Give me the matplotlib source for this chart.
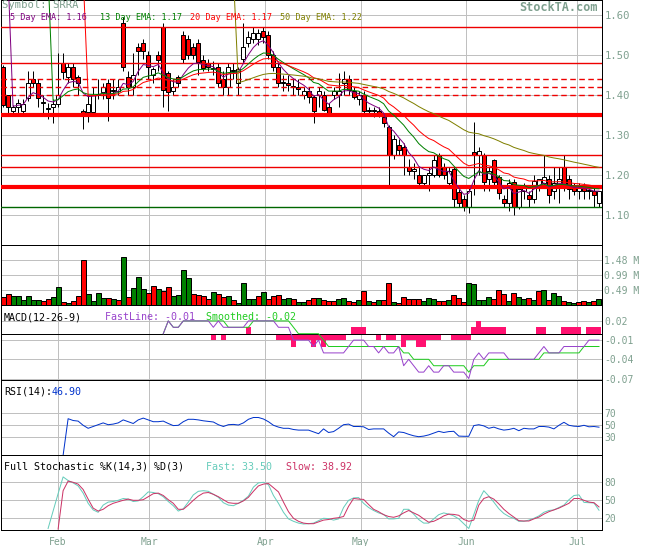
import matplotlib
matplotlib.use('Agg')
import matplotlib.pyplot as plt
import numpy as np

plt.rcParams['font.family'] = ['DejaVu Sans Mono']

# ---- data ----
symbol = 'SRRA'
months = ['Feb', 'Mar', 'Apr', 'May', 'Jun', 'Jul']
month_pos = [11.5, 29.7, 52.9, 71.9, 93.0, 115.2]

opens = [1.47, 1.40, 1.36, 1.37, 1.36, 1.392, 1.44, 1.43, 1.38, 1.365,
         1.37, 1.378, 1.48, 1.446, 1.469, 1.446, 1.36, 1.358, 1.358, 1.40,
         1.408, 1.429, 1.41, 1.41, 1.579, 1.446, 1.42, 1.52, 1.529, 1.50,
         1.45, 1.50, 1.569, 1.454, 1.41, 1.446, 1.55, 1.54, 1.52, 1.529,
         1.4875, 1.479, 1.465, 1.469, 1.44, 1.419, 1.46, 1.429, 1.49, 1.53,
         1.54, 1.54, 1.56, 1.55, 1.50, 1.47, 1.43, 1.43, 1.42, 1.42,
         1.40, 1.41, 1.395, 1.40, 1.40, 1.37, 1.40, 1.40, 1.43, 1.44,
         1.41, 1.39, 1.40, 1.36, 1.36, 1.36, 1.346, 1.32, 1.25, 1.275,
         1.27, 1.22, 1.21, 1.20, 1.18, 1.20, 1.20, 1.25, 1.22, 1.18,
         1.216, 1.158, 1.14, 1.12, 1.258, 1.25, 1.25, 1.19, 1.2375, 1.196,
         1.14, 1.13, 1.183, 1.12, 1.16, 1.15, 1.14, 1.17, 1.18, 1.19,
         1.16, 1.17, 1.22, 1.19, 1.17, 1.16, 1.17, 1.16, 1.16, 1.13]
highs = [1.475, 1.40, 1.375, 1.39, 1.39, 1.46, 1.46, 1.44, 1.40, 1.38,
         1.39, 1.505, 1.505, 1.479, 1.479, 1.45, 1.365, 1.40, 1.42, 1.44,
         1.43, 1.44, 1.44, 1.44, 1.594, 1.46, 1.505, 1.53, 1.54, 1.51,
         1.47, 1.51, 1.58, 1.46, 1.44, 1.45, 1.56, 1.55, 1.53, 1.54,
         1.50, 1.49, 1.485, 1.48, 1.46, 1.479, 1.48, 1.47, 1.579, 1.56,
         1.57, 1.565, 1.57, 1.56, 1.51, 1.48, 1.45, 1.45, 1.44, 1.44,
         1.42, 1.42, 1.40, 1.42, 1.41, 1.38, 1.42, 1.455, 1.46, 1.45,
         1.42, 1.41, 1.41, 1.37, 1.37, 1.37, 1.35, 1.325, 1.30, 1.29,
         1.28, 1.24, 1.23, 1.22, 1.20, 1.22, 1.25, 1.255, 1.23, 1.22,
         1.22, 1.165, 1.15, 1.17, 1.333, 1.27, 1.255, 1.22, 1.24, 1.20,
         1.15, 1.19, 1.19, 1.17, 1.18, 1.16, 1.20, 1.19, 1.25, 1.20,
         1.22, 1.22, 1.25, 1.20, 1.18, 1.18, 1.18, 1.17, 1.17, 1.16]
lows = [1.37, 1.355, 1.35, 1.355, 1.355, 1.385, 1.42, 1.37, 1.355, 1.34,
        1.33, 1.37, 1.44, 1.43, 1.42, 1.40, 1.315, 1.333, 1.35, 1.39,
        1.39, 1.335, 1.39, 1.40, 1.46, 1.40, 1.40, 1.45, 1.49, 1.44,
        1.43, 1.46, 1.37, 1.36, 1.40, 1.42, 1.48, 1.49, 1.49, 1.45,
        1.46, 1.46, 1.45, 1.42, 1.40, 1.40, 1.44, 1.40, 1.48, 1.52,
        1.53, 1.525, 1.53, 1.49, 1.46, 1.42, 1.41, 1.41, 1.40, 1.40,
        1.39, 1.38, 1.33, 1.37, 1.36, 1.35, 1.39, 1.37, 1.40, 1.40,
        1.39, 1.375, 1.35, 1.35, 1.345, 1.345, 1.32, 1.17, 1.24, 1.25,
        1.20, 1.20, 1.19, 1.17, 1.175, 1.16, 1.195, 1.195, 1.19, 1.17,
        1.12, 1.12, 1.11, 1.105, 1.15, 1.20, 1.16, 1.16, 1.17, 1.14,
        1.12, 1.11, 1.10, 1.115, 1.14, 1.12, 1.13, 1.16, 1.17, 1.13,
        1.14, 1.13, 1.16, 1.14, 1.15, 1.14, 1.14, 1.14, 1.12, 1.12]
closes = [1.375, 1.37, 1.37, 1.38, 1.378, 1.43, 1.43, 1.392, 1.381, 1.366,
          1.378, 1.40, 1.458, 1.469, 1.44, 1.429, 1.35, 1.378, 1.40, 1.401,
          1.419, 1.392, 1.411, 1.419, 1.469, 1.419, 1.45, 1.51, 1.51, 1.469,
          1.465, 1.4875, 1.4125, 1.408, 1.42, 1.429, 1.49, 1.50, 1.50, 1.483,
          1.467, 1.469, 1.466, 1.429, 1.419, 1.469, 1.461, 1.464, 1.52, 1.545,
          1.555, 1.555, 1.545, 1.50, 1.469, 1.429, 1.431, 1.425, 1.421, 1.415,
          1.41, 1.395, 1.36, 1.41, 1.362, 1.355, 1.41, 1.41, 1.44, 1.4125,
          1.395, 1.40, 1.36, 1.361, 1.361, 1.356, 1.329, 1.25, 1.29, 1.262,
          1.25, 1.21, 1.215, 1.18, 1.20, 1.205, 1.2375, 1.20, 1.20, 1.21,
          1.14, 1.13, 1.12, 1.16, 1.25, 1.26, 1.183, 1.21, 1.183, 1.154,
          1.13, 1.18, 1.12, 1.165, 1.17, 1.14, 1.185, 1.19, 1.195, 1.15,
          1.18, 1.19, 1.175, 1.165, 1.16, 1.17, 1.16, 1.161, 1.15, 1.16]

volume_m = [0.265, 0.36, 0.29, 0.29, 0.17, 0.29, 0.17, 0.17, 0.13, 0.20,
            0.265, 0.60, 0.10, 0.08, 0.13, 0.30, 1.48, 0.36, 0.13, 0.40,
            0.23, 0.23, 0.20, 0.17, 1.59, 0.265, 0.56, 0.93, 0.53, 0.40,
            0.63, 0.53, 0.46, 0.60, 0.30, 0.33, 1.16, 0.89, 0.36, 0.33,
            0.30, 0.20, 0.43, 0.36, 0.265, 0.30, 0.17, 0.07, 0.73, 0.20,
            0.20, 0.30, 0.43, 0.20, 0.30, 0.33, 0.20, 0.23, 0.20, 0.10,
            0.10, 0.17, 0.23, 0.23, 0.17, 0.13, 0.13, 0.20, 0.23, 0.13,
            0.10, 0.17, 0.46, 0.13, 0.10, 0.17, 0.17, 0.73, 0.10, 0.07,
            0.265, 0.20, 0.20, 0.20, 0.13, 0.23, 0.20, 0.13, 0.13, 0.17,
            0.33, 0.23, 0.10, 0.73, 0.70, 0.17, 0.17, 0.265, 0.20, 0.50,
            0.36, 0.13, 0.40, 0.265, 0.20, 0.23, 0.17, 0.46, 0.50, 0.17,
            0.40, 0.30, 0.13, 0.10, 0.07, 0.10, 0.13, 0.10, 0.13, 0.20]
# g = up day, r = down day
volume_dir = ('rrggggggrr' 'ggrgrrrggg' 'grgrgrgggr' 'rgrrggggrr'
              'rrgrrgrggg' 'grgrrrggrg' 'grrgrrrggr' 'rgrgrgrrgr'
              'rrrrgggrrg' 'rrrgggggrr' 'rgrggrgrgr' 'ggrggrrgrg')

support_thin = [1.57, 1.48, 1.25, 1.22]
support_dashed = [1.44, 1.42, 1.40]
support_thick = [1.35, 1.17]
support_green = [1.12]

ema_periods = [5, 13, 20, 50]

# MACD in hundredths, from bar 32 on
macd_start = 32
macd_fast = [0, 2, 1, 1, 2, 2, 2, 2, 2, 2, 1, 2, 1, 1, 1, 1, 1, 2, 2, 2,
             2, 2, 2, 1, 1, 1, -1, -1, -1, -1, -2, -1, -3, -3, -3, -3, -3, -2,
             -1, -1, -1, -2, -2, -3, -2, -3, -3, -2, -5, -4, -5, -6, -6, -5,
             -6, -6, -5, -5, -6, -6, -6, -7, -4, -3, -4, -3, -3, -3, -3, -4,
             -4, -4, -4, -4, -4, -3, -2, -3, -3, -3, -2, -2, -2, -2, -2, -1,
             -1, -1]
macd_smooth = ([0, 2, 1, 1] + [2] * 9 + [1] * 5 + [2] * 8 + [1] + [0] * 5 +
               [-1] + [-2] * 15 + [-3] * 2 + [-4] * 4 + [-5] * 7 + [-6] +
               [-5] * 3 + [-4] * 11 + [-3] * 8 + [-2] * 4)
macd_ticks = [0.02, -0.01, -0.04, -0.07]

rsi_start = 12
rsi = [0, 61, 58, 57, 50, 45, 48, 51, 54, 51, 52, 54, 59, 56, 53, 59, 62, 59,
       56, 56, 57, 53, 49.5, 50, 56, 60, 60, 59, 57.5, 56.5, 55.5, 51, 48, 51,
       51.5, 50.5, 54, 60, 63, 63, 60.5, 56, 50, 47, 45, 45, 43, 42, 42, 42,
       39, 36, 44, 38, 39.5, 45, 51, 52, 48, 48, 47.5, 43, 44, 44, 44, 37, 31,
       39, 38, 35, 32.5, 31, 32, 34, 37, 40, 38, 39.5, 40, 32, 31.7, 31.7,
       49.5, 51, 49, 45, 47, 44, 42, 43, 45, 41, 45, 44, 44, 48, 48, 47, 44,
       50, 55, 50, 48.5, 48, 50, 47.5, 48, 46.9]

stoch_fast_start = 9
stoch_fast = [3, 32, 61, 89, 83, 79, 74, 62, 45, 34, 30, 42, 47, 48, 50, 53,
              52, 48, 49, 56, 64, 63, 61, 56, 48, 41, 32, 36, 47, 59, 65, 66,
              65, 60, 55, 46, 42, 41, 45, 50, 57, 72, 79, 80, 76, 58, 45, 30,
              19, 15, 12, 10.5, 11, 12, 16, 20, 19.5, 17, 19, 38, 50, 54, 54.5,
              45, 38, 33, 29, 26.5, 19, 19, 20, 35, 35, 27, 18, 12, 12, 19, 26,
              29, 27, 24, 19, 11, 3, 26, 50, 66, 57, 47, 36, 28, 23, 20, 15, 15,
              17, 20, 24, 30, 33, 34, 38, 42, 51, 58, 59, 46.5, 46, 45.5, 33.5]
stoch_slow_start = 11
stoch_slow = [2, 66, 82, 80, 77, 68, 52, 37, 32, 35, 41, 45, 47.5, 50, 52,
              50, 50, 51, 56, 61, 62, 58, 51, 45, 35, 35, 42, 50, 57, 62, 63,
              60, 56, 51, 46, 45, 45, 49, 55, 65, 74, 77, 78, 71, 64, 47, 31,
              20, 15, 12, 11, 11, 14, 17, 18, 20, 21, 23, 40, 53, 52, 51.5, 43,
              35, 31, 26, 23, 21.7, 24, 29, 33, 29, 25, 19, 13.5, 15, 19, 24,
              27, 26.5, 25, 18, 15, 17, 42, 53, 56, 52, 44, 35, 28, 22, 16,
              15.5, 15.5, 19, 22, 27, 31, 34, 37, 41, 45, 53, 53, 50, 47, 46,
              38.92]

# ---- styling ----
W, H = 655, 546
LW = 0.72
LABEL = '#7FA08F'
GRID = '#C0C0C0'

fig = plt.figure(figsize=(W / 100, H / 100), dpi=100)
fig.patch.set_facecolor('white')


def panel(top, bottom):
    ax = fig.add_axes([0.5 / W, 1 - bottom / H, 601 / W, (bottom - top) / H])
    ax.set_xlim(0, len(closes))
    for s in ax.spines.values():
        s.set_color('black')
        s.set_linewidth(LW)
    ax.set_xticks(month_pos)
    ax.tick_params(axis='x', length=0, labelbottom=False)
    ax.yaxis.tick_right()
    ax.tick_params(axis='y', length=0, pad=2, labelsize=7, labelcolor=LABEL)
    ax.grid(True, color=GRID, linewidth=LW)
    ax.set_axisbelow(True)
    return ax


def ptext(x, y, s, **kw):
    kw.setdefault('va', 'center')
    kw.setdefault('fontsize', 7.2)
    fig.text(x / W, 1 - y / H, s, **kw)


n = len(closes)
x = np.arange(n) + 0.5
o, h, l, c = (np.array(v) for v in (opens, highs, lows, closes))

# ---- price panel ----
ax = panel(0, 245)
ax.set_ylim(1.025, 1.6375)
price_ticks = [1.10, 1.20, 1.30, 1.40, 1.50, 1.60]
ax.set_yticks(price_ticks)
ax.set_yticklabels([f'{t:.2f}' for t in price_ticks], fontsize=7.6)

ax.vlines(x, l, h, color='black', lw=LW, zorder=2)
up = c >= o
ax.bar(x, np.maximum(np.abs(c - o), 0.0015), bottom=np.minimum(o, c), width=0.8,
       color=np.where(up, 'white', '#FF0000'), edgecolor='black', lw=LW, zorder=3)

for v in support_thin:
    ax.axhline(v, color='#EE0000', lw=1.0, zorder=4)
for v in support_dashed:
    ax.axhline(v, color='#EE0000', lw=1.0, ls=(0, (4, 2.5)), zorder=4)
for v in support_thick:
    ax.axhline(v, color='#FF0000', lw=3.0, zorder=4)
for v in support_green:
    ax.axhline(v, color='#006600', lw=1.0, zorder=4)

ema_colors = ['#800080', '#008000', '#FF0000', '#808000']
ema_last = []
for period, col in zip(ema_periods, ema_colors):
    s = period - 3
    e = np.full(n, np.nan)
    e[s] = c[:s + 1].mean()
    k = 2.0 / (period + 1)
    for i in range(s + 1, n):
        e[i] = c[i] * k + e[i - 1] * (1 - k)
    e[s - 1] = 1.70  # line enters from above the panel
    ax.plot(x, e, color=col, lw=LW, zorder=5)
    ema_last.append(e[-1])

ptext(2, 0.5, f'Symbol: {symbol}', color=LABEL, fontsize=7.6, va='top')
ema_x = [10, 100, 190, 280]
for px_, period, col, val in zip(ema_x, ema_periods, ema_colors, ema_last):
    ptext(px_, 18, f'{period} Day EMA: {val:.2f}', color=col, fontsize=6.1)
ptext(598, 7.5, 'StockTA.com', color=LABEL, fontsize=8.6, ha='right',
      fontweight='bold')

# ---- volume panel ----
av = panel(245, 305)
vol = np.array(volume_m) * 1e6
av.set_ylim(0, 1.99e6)
vol_ticks = [0.49e6, 0.99e6, 1.48e6]
av.set_yticks(vol_ticks)
av.set_yticklabels([f'{t / 1e6:.2f} M' for t in vol_ticks])
av.bar(x, vol, width=1.0, color=['#008000' if d == 'g' else '#FF0000' for d in volume_dir],
       edgecolor='black', lw=LW, zorder=3)

# ---- MACD panel ----
am = panel(305, 380)
am.set_ylim(-0.0723, 0.0448)
am.set_yticks(macd_ticks)
am.set_yticklabels([f'{t:.2f}' for t in macd_ticks])
mx = np.arange(macd_start, macd_start + len(macd_fast)) + 0.5
mf = np.array(macd_fast) / 100
ms = np.array(macd_smooth) / 100
hist = mf - ms
am.bar(mx, hist, width=1.0, color='#FF1170', zorder=2)
am.axhline(0, color='black', lw=LW, zorder=3)
am.plot(mx, ms, color='#22CC22', lw=LW, zorder=4)
am.plot(mx, mf, color='#9944CC', lw=LW, zorder=5)
ptext(4, 317, 'MACD(12-26-9)', color='black')
ptext(105, 317, f'FastLine: {mf[-1]:.2f}', color='#9944CC')
ptext(206, 317, f'Smoothed: {ms[-1]:.2f}', color='#22CC22')

# ---- RSI panel ----
ar = panel(380, 455)
ar.set_ylim(0.5, 125.5)
ar.set_yticks([30, 50, 70])
ar.plot(np.arange(rsi_start, rsi_start + len(rsi)) + 0.5, rsi, color='#0033CC', lw=LW)
ptext(4, 392, 'RSI(14):', color='black')
ptext(52, 392, f'{rsi[-1]:.2f}', color='#0033CC')

# ---- stochastic panel ----
ak = panel(455, 530)
ak.set_ylim(0.5, 125.5)
ak.set_yticks([20, 50, 80])
ak.plot(np.arange(stoch_fast_start, stoch_fast_start + len(stoch_fast)) + 0.5,
        stoch_fast, color='#66CCBB', lw=LW)
ak.plot(np.arange(stoch_slow_start, stoch_slow_start + len(stoch_slow)) + 0.5,
        stoch_slow, color='#CC3366', lw=LW)
ptext(4, 466.5, 'Full Stochastic %K(14,3) %D(3)', color='black')
ptext(206, 466.5, f'Fast: {stoch_fast[-1]:.2f}', color='#66CCBB')
ptext(286, 466.5, f'Slow: {stoch_slow[-1]:.2f}', color='#CC3366')
ak.tick_params(axis='x', labelbottom=True, pad=5, labelsize=7, labelcolor=LABEL)
ak.set_xticklabels(months)

fig.savefig('out.png', dpi=100, facecolor='white')
